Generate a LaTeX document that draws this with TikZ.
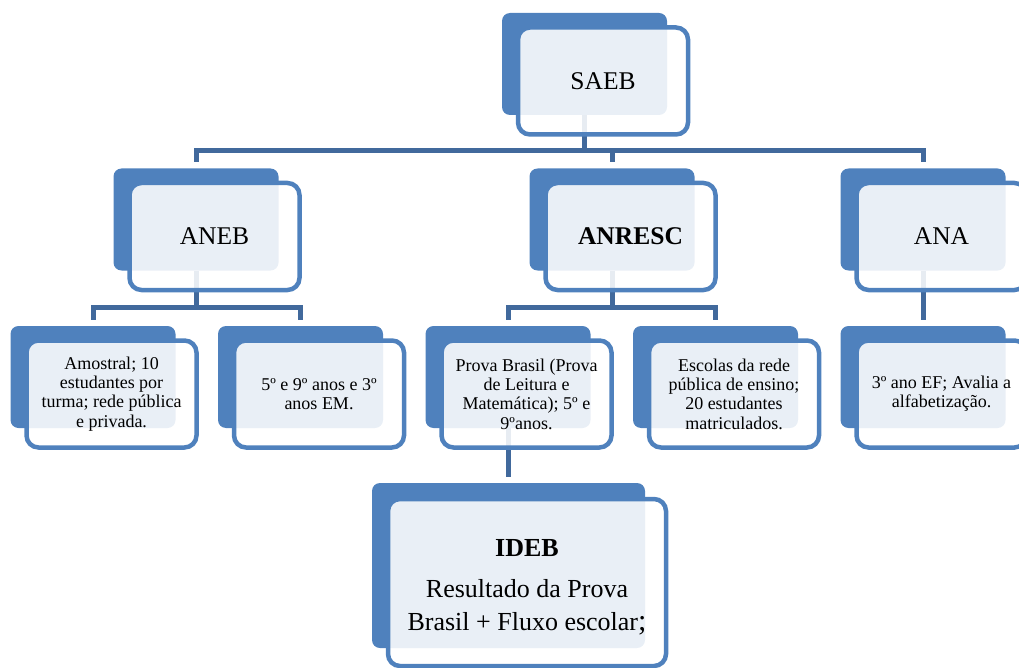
\documentclass[tikz,border=0pt]{standalone}
\usepackage{fontspec}
\setmainfont{Liberation Serif}
\usepackage{xcolor}
\usepackage{tikz}
\usetikzlibrary{backgrounds}
\definecolor{accent}{HTML}{4F81BD}
\definecolor{wire}{HTML}{41699C}
\tikzset{
  back/.style={fill=accent, rounded corners=8pt, inner sep=0pt},
  front/.style={draw=accent, line width=4.5pt, fill=white, fill opacity=0.88, text opacity=1,
    rounded corners=12pt, align=center, inner sep=0pt, xshift=18.5pt, yshift=-17pt},
  tier/.style={minimum width=165pt, minimum height=102pt},
  tierf/.style={front, minimum width=170pt, minimum height=107pt},
  head/.style={font=\fontsize{25.5}{30}\selectfont},
  small/.style={font=\fontsize{18}{19.3}\selectfont},
  conn/.style={draw=wire, line width=5pt, shorten >=6pt},
}

\begin{document}
\begin{tikzpicture}[x=1pt,y=-1pt]
  \useasboundingbox (0,0) rectangle (1019,668);

  % top level
  \node[back,tier] (saeb) at (584.5,64) {};
  \node[tierf,head] (saeb-f) at (saeb) {SAEB};

  % second level
  \node[back,tier] (aneb) at (196,219.5) {};
  \node[tierf,head] (aneb-f) at (aneb) {ANEB};
  \node[back,tier] (anresc) at (612,219.5) {};
  \node[tierf,head] (anresc-f) at (anresc) {\bfseries ANRESC};
  \node[back,tier] (ana) at (923,219.5) {};
  \node[tierf,head] (ana-f) at (ana) {ANA};

  % third level
  \node[back,tier] (amostral) at (93,377) {};
  \node[tierf,small] (amostral-f) at (amostral) {Amostral; 10\\estudantes por\\turma; rede pública\\e privada.};
  \node[back,tier] (anos) at (300.5,377) {};
  \node[tierf,small] (anos-f) at (anos) {5º e 9º anos e 3º\\anos EM.};
  \node[back,tier] (prova) at (508,377) {};
  \node[tierf,small] (prova-f) at (prova) {Prova Brasil (Prova\\de Leitura e\\Matemática); 5º e\\9ºanos.};
  \node[back,tier] (escolas) at (715.5,377) {};
  \node[tierf,small] (escolas-f) at (escolas) {Escolas da rede\\pública de ensino;\\20 estudantes\\matriculados.};
  \node[back,tier] (alfab) at (923,377) {};
  \node[tierf,small] (alfab-f) at (alfab) {3º ano EF; Avalia a\\alfabetização.};

  % IDEB
  \node[back,minimum width=273pt,minimum height=165pt] (ideb) at (508.5,565.5) {};
  \node[front,minimum width=278pt,minimum height=167pt] (ideb-f) at (ideb) {};
  \node[align=center,font=\fontsize{26}{33}\selectfont,yshift=-5pt] (ideb-t) at (ideb-f)
    {{\bfseries IDEB}\\[8pt]Resultado da Prova\\Brasil + Fluxo escolar{\fontsize{30}{30}\selectfont;}};

  \begin{scope}[on background layer]
    \draw[conn] (saeb.south) -- ++(0,35) -| (aneb.north);
    \draw[conn] (saeb.south) -- ++(0,35) -| (anresc.north);
    \draw[conn] (saeb.south) -- ++(0,35) -| (ana.north);
    \draw[conn] (aneb.south) -- ++(0,37) -| (amostral.north);
    \draw[conn] (aneb.south) -- ++(0,37) -| (anos.north);
    \draw[conn] (anresc.south) -- ++(0,37) -| (prova.north);
    \draw[conn] (anresc.south) -- ++(0,37) -| (escolas.north);
    \draw[conn] (ana.south) -- (alfab.north);
    \draw[conn] (prova.south) -- (prova.south |- ideb.north);
  \end{scope}
\end{tikzpicture}
\end{document}
